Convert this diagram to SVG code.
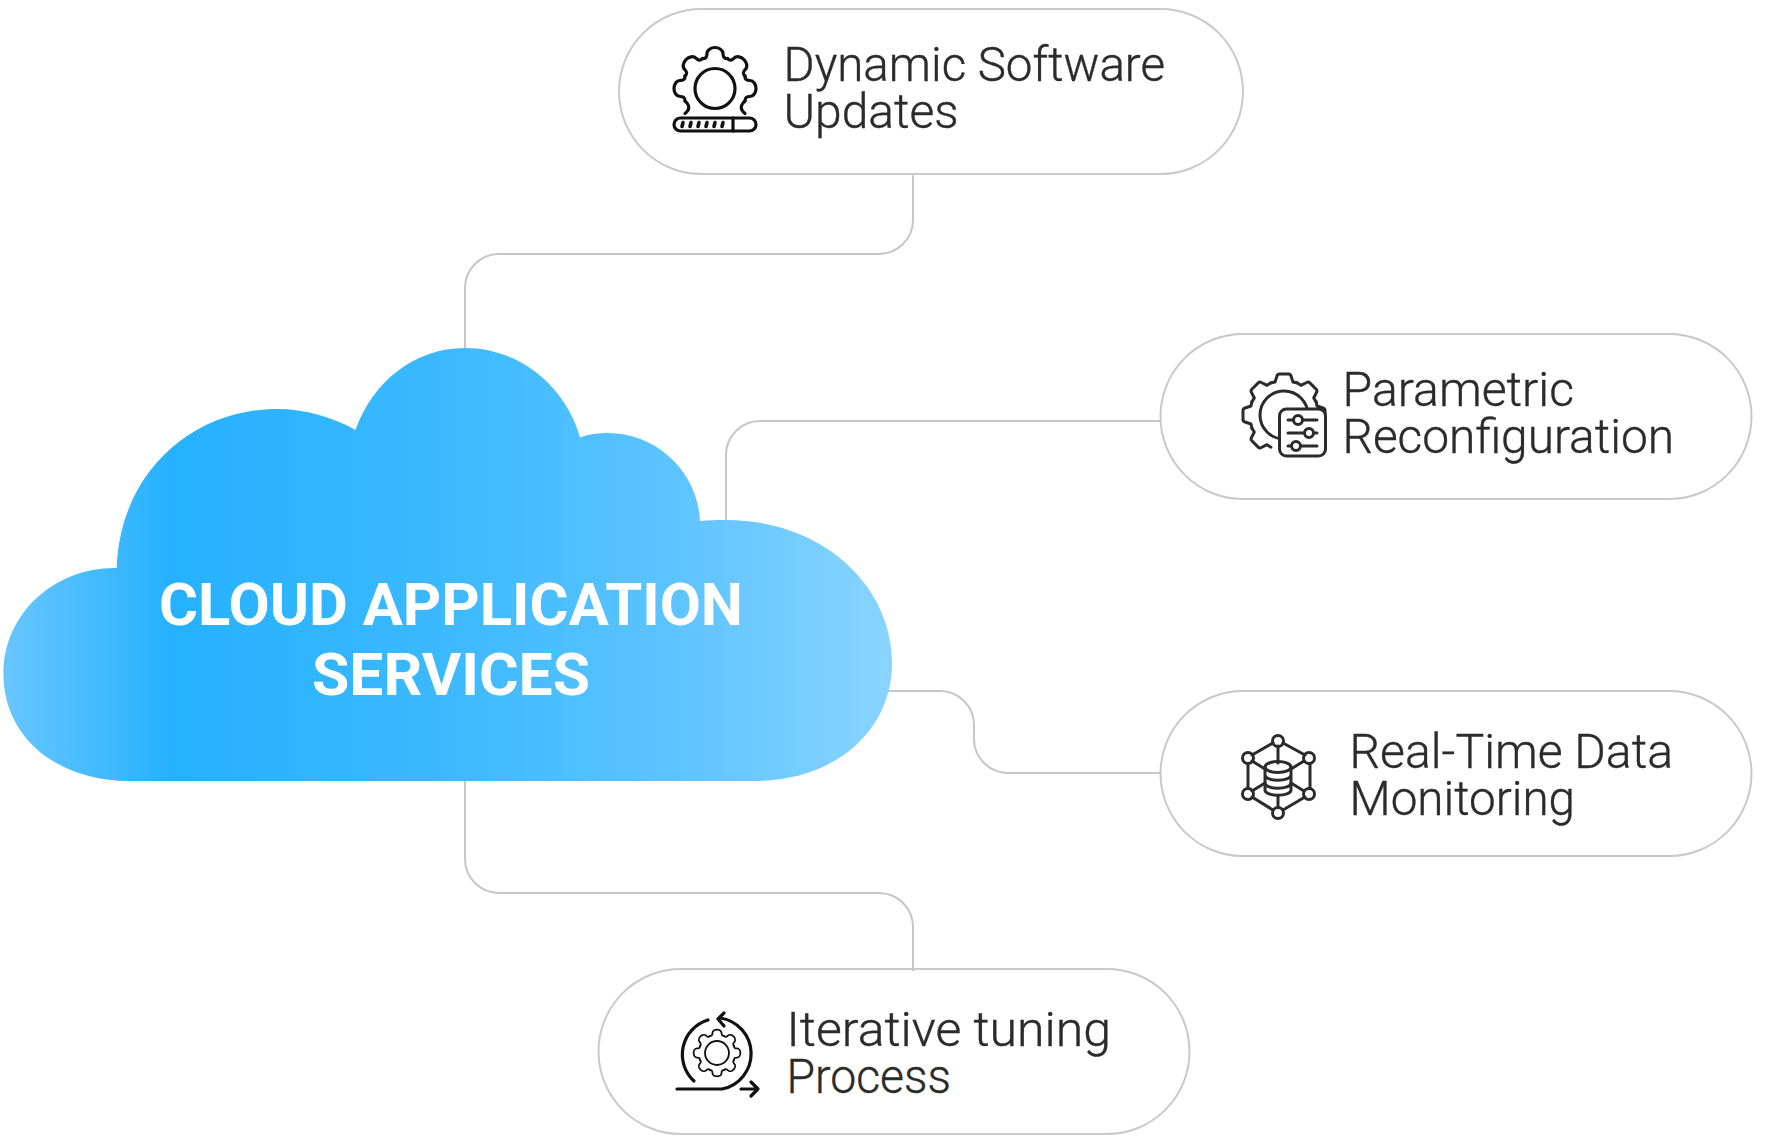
<svg xmlns="http://www.w3.org/2000/svg" xmlns:xlink="http://www.w3.org/1999/xlink" width="1777" height="1146" viewBox="0 0 1777 1146">
  <style>
    .pill { fill: none; stroke: #c9c9c9; stroke-width: 2; }
    .link { fill: none; stroke: #c6c6c6; stroke-width: 2; }
    .label { font-family: "Roboto", "Liberation Sans", sans-serif; font-weight: 300; font-size: 49px; fill: #2b2b2b; stroke: #2b2b2b; stroke-width: 0.4; }
    .title { font-family: "Roboto", "Liberation Sans", sans-serif; font-weight: 700; font-size: 60px; fill: #ffffff; text-anchor: middle; }
    .ink { fill: none; stroke: #111111; stroke-width: 3.2; stroke-linecap: round; stroke-linejoin: round; }
    .soft { fill: none; stroke: #2b2b2b; stroke-width: 3; stroke-linecap: round; stroke-linejoin: round; }
  </style>
  <defs>
    <linearGradient id="cloudFill" gradientUnits="userSpaceOnUse" x1="3" y1="0" x2="892" y2="0">
      <stop offset="0" stop-color="#69c6ff"/>
      <stop offset="0.19" stop-color="#25b1ff"/>
      <stop offset="0.5" stop-color="#3cb9ff"/>
      <stop offset="0.76" stop-color="#5ec4ff"/>
      <stop offset="1" stop-color="#89d4ff"/>
    </linearGradient>
    <!-- one rounded gear tooth, pointing up from the origin -->
    <path id="toothRound" d="M-12.6,-30 C-9,-29.5 -8,-32 -8,-35 C-8,-38.5 -4,-41 0,-41 C4,-41 8,-38.5 8,-35 C8,-32 9,-29.5 12.6,-30"/>
    <!-- one flat gear tooth, pointing up from the origin -->
    <path id="toothFlat" d="M-13.5,-32 L-9,-33 L-7,-39 Q-6.5,-41 -4.5,-41 L4.5,-41 Q6.5,-41 7,-39 L9,-33 L13.5,-32"/>
  </defs>

  <g id="connectors">
    <path class="link" d="M913,175 V220 A34,34 0 0 1 879,254 H499 A34,34 0 0 0 465,288 V350"/>
    <path class="link" d="M1160,421 H760 A34,34 0 0 0 726,455 V522"/>
    <path class="link" d="M886,691 H940 A34,34 0 0 1 974,725 V739 A34,34 0 0 0 1008,773 H1160"/>
    <path class="link" d="M465,779 V859 A34,34 0 0 0 499,893 H879 A34,34 0 0 1 913,927 V971"/>
  </g>

  <g id="cloud">
    <path fill="url(#cloudFill)" d="M116.7,568 C120,470 195,409 276.5,409 C306,409 332,417 355.5,430 C373,381 415,348 465,348 C520,348 566,387 580,437.5 C589,434 598,433 607.5,433 C658,433 698,473 700,521 C708,520 716,520 726,520 C822,520 892,585 892,663 C892,731 835,781 754,781 H130 C55,781 3.4,736 3.4,674 C3.4,613 55,567 116.7,568 Z"/>
    <text class="title" x="451" y="624.5" textLength="584" lengthAdjust="spacingAndGlyphs">CLOUD APPLICATION</text>
    <text class="title" x="451" y="694.5" textLength="278" lengthAdjust="spacingAndGlyphs">SERVICES</text>
  </g>

  <g id="node-dynamic-software-updates">
    <rect class="pill" x="619" y="9" width="624" height="165" rx="82.5"/>
    <g class="ink" transform="translate(715,88.5)">
      <use xlink:href="#toothRound"/>
      <use xlink:href="#toothRound" transform="rotate(45)"/>
      <use xlink:href="#toothRound" transform="rotate(90)"/>
      <use xlink:href="#toothRound" transform="rotate(-45)"/>
      <use xlink:href="#toothRound" transform="rotate(-90)"/>
      <path d="M30,12.4 C25,17 25,21 30,25"/>
      <path d="M-30,12.4 C-25,17 -25,21 -30,25"/>
      <circle r="20"/>
    </g>
    <g class="ink">
      <rect x="674" y="118" width="82" height="13" rx="6.5"/>
      <path d="M733,118 V131"/>
      <path stroke-width="3.6" d="M682,126.5 l1,-4 M690,126.5 l1,-4 M698,126.5 l1,-4 M706,126.5 l1,-4 M714,126.5 l1,-4 M722,126.5 l1,-4"/>
    </g>
    <text class="label" x="783.5" y="81" textLength="381.5" lengthAdjust="spacingAndGlyphs">Dynamic Software</text>
    <text class="label" x="783.5" y="128" textLength="175" lengthAdjust="spacingAndGlyphs">Updates</text>
  </g>

  <g id="node-parametric-reconfiguration">
    <rect class="pill" x="1160.5" y="334" width="591" height="165" rx="82.5"/>
    <g class="soft" transform="translate(1284,415)">
      <use xlink:href="#toothFlat" transform="rotate(-90)"/>
      <use xlink:href="#toothFlat" transform="rotate(-45)"/>
      <use xlink:href="#toothFlat"/>
      <use xlink:href="#toothFlat" transform="rotate(45)"/>
      <use xlink:href="#toothFlat" transform="rotate(-135)"/>
      <use xlink:href="#toothFlat" transform="rotate(90)"/>
      <use xlink:href="#toothFlat" transform="rotate(135)"/>
      <circle r="24"/>
    </g>
    <g class="soft">
      <rect x="1279.5" y="409" width="46" height="47" rx="7" fill="#ffffff"/>
      <path d="M1288,420 H1293 M1303,420 H1317 M1288,433 H1304 M1314,433 H1317 M1288,446 H1291 M1301,446 H1317"/>
      <circle cx="1298" cy="420" r="4.5"/>
      <circle cx="1309" cy="433" r="4.5"/>
      <circle cx="1296" cy="446" r="4.5"/>
    </g>
    <text class="label" x="1342.5" y="406" textLength="231.5" lengthAdjust="spacingAndGlyphs">Parametric</text>
    <text class="label" x="1342.5" y="453" textLength="331.5" lengthAdjust="spacingAndGlyphs">Reconfiguration</text>
  </g>

  <g id="node-real-time-data-monitoring">
    <rect class="pill" x="1160.5" y="691" width="591" height="165" rx="82.5"/>
    <g class="soft">
      <path d="M1283,743 L1305,755 M1310,764 V788 M1305,797 L1283,810 M1273,810 L1252,797 M1248,788 V764 M1252,755 L1273,743"/>
      <path d="M1278,746 V763 M1278,796 V807 M1252,761 L1265,769 M1304,761 L1291,769 M1252,791 L1265,783 M1304,791 L1291,783"/>
      <circle cx="1278" cy="741" r="5.5"/>
      <circle cx="1309" cy="758" r="5.5"/>
      <circle cx="1309" cy="794" r="5.5"/>
      <circle cx="1278" cy="813" r="5.5"/>
      <circle cx="1248" cy="794" r="5.5"/>
      <circle cx="1248" cy="758" r="5.5"/>
      <ellipse cx="1278" cy="767" rx="13" ry="5.5"/>
      <path d="M1265,767 V790 C1265,797 1291,797 1291,790 V767 M1265,775 C1265,782 1291,782 1291,775 M1265,783 C1265,790 1291,790 1291,783"/>
    </g>
    <text class="label" x="1349.5" y="768" textLength="323.5" lengthAdjust="spacingAndGlyphs">Real-Time Data</text>
    <text class="label" x="1349.5" y="815" textLength="225.5" lengthAdjust="spacingAndGlyphs">Monitoring</text>
  </g>

  <g id="node-iterative-tuning-process">
    <rect class="pill" x="598.5" y="969" width="591" height="165" rx="82.5"/>
    <g class="ink" transform="translate(717,1053) scale(0.57)" stroke-width="5.4">
      <use xlink:href="#toothRound"/>
      <use xlink:href="#toothRound" transform="rotate(45)"/>
      <use xlink:href="#toothRound" transform="rotate(90)"/>
      <use xlink:href="#toothRound" transform="rotate(135)"/>
      <use xlink:href="#toothRound" transform="rotate(180)"/>
      <use xlink:href="#toothRound" transform="rotate(225)"/>
      <use xlink:href="#toothRound" transform="rotate(270)"/>
      <use xlink:href="#toothRound" transform="rotate(315)"/>
      <circle r="21"/>
    </g>
    <g class="ink">
      <path d="M720,1018 A36,36 0 0 1 722,1089 H677"/>
      <path d="M724,1013 L718,1019 L724,1026"/>
      <path d="M708,1020 A36,36 0 0 0 694,1081"/>
      <path d="M741,1089 H758 M751,1082 L758,1089 L751,1096"/>
    </g>
    <text class="label" x="786.5" y="1046" textLength="324.5" lengthAdjust="spacingAndGlyphs">Iterative tuning</text>
    <text class="label" x="786.5" y="1093" textLength="164.5" lengthAdjust="spacingAndGlyphs">Process</text>
  </g>
</svg>
